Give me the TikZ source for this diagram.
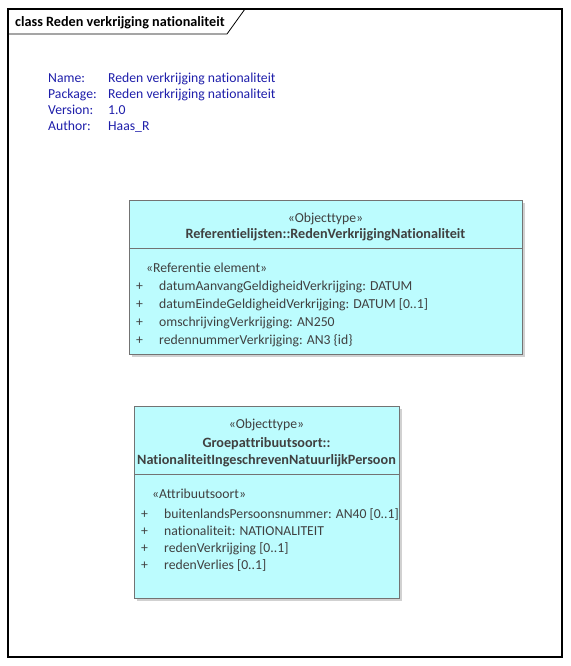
\documentclass[tikz,border=0pt]{standalone}
\usepackage{fontspec}
\setmainfont{Carlito}[Ligatures=NoCommon]
\usetikzlibrary{positioning}
\definecolor{classfill}{RGB}{188,252,254}
\definecolor{infoblue}{RGB}{30,30,170}
\definecolor{classtext}{RGB}{64,64,64}
\newcommand{\umlfont}{\fontsize{13.7}{17}\selectfont}
\newcommand{\umlbold}{\fontsize{14.2}{17}\selectfont\bfseries}

\begin{document}
\begin{tikzpicture}[x=1pt,y=-1pt,font=\umlfont,
    classbox/.style={draw=black!55,fill=classfill,inner sep=0pt},
    shadowbox/.style={fill=black!18,draw=none},
    info/.style={text=infoblue,anchor=mid west,inner sep=0pt},
    ctext/.style={text=classtext,inner sep=0pt},
    attr/.style={ctext,anchor=mid west}]
  \useasboundingbox (0,0) rectangle (570,666);

  % diagram frame with title tab
  \draw[line width=1.2pt] (8,9) rectangle (562,657);
  \draw[line width=0.8pt] (8,34) -- (227,34) -- (245,9);
  \node[anchor=mid west,inner sep=0pt,font=\umlbold] (title) at (15,24) {class Reden verkrijging nationaliteit};

  % diagram properties
  \foreach \key/\val [count=\i] in {Name:/Reden verkrijging nationaliteit,
      Package:/Reden verkrijging nationaliteit, Version:/1.0, Author:/Haas\_R} {
    \node[info] (key\i) at (48,64.5+16*\i) {\key};
    \node[info] (val\i) at (108,64.5+16*\i) {\val};
  }

  % class Referentielijsten::RedenVerkrijgingNationaliteit
  \fill[black!18] (132,203) rectangle (525,357);
  \node[classbox,minimum width=393pt,minimum height=154pt] (refbox) at (325.5,277) {};
  \draw[black!55] (refbox.west |- 0,248.5) -- (refbox.east |- 0,248.5);
  \node[ctext] (refstereo) at (325.5,218.5) {«Objecttype»};
  \node[ctext,font=\umlbold] (refname) at (325.5,235) {Referentielijsten::RedenVerkrijgingNationaliteit};
  \node[attr] (refsect) at (146,270.5) {«Referentie element»};
  \foreach \attr [count=\i] in {datumAanvangGeldigheidVerkrijging: DATUM,
      datumEindeGeldigheidVerkrijging: DATUM [0..1],
      omschrijvingVerkrijging: AN250,
      redennummerVerkrijging: AN3 \{id\}} {
    \node[attr] (refplus\i) at (136,270.5+18*\i) {+};
    \node[attr] (refattr\i) at (159,270.5+18*\i) {\attr};
  }

  % class Groepattribuutsoort::NationaliteitIngeschrevenNatuurlijkPersoon
  \fill[black!18] (137,409) rectangle (402,601);
  \node[classbox,minimum width=265pt,minimum height=192pt] (natbox) at (266.5,502) {};
  \draw[black!55] (natbox.west |- 0,474) -- (natbox.east |- 0,474);
  \node[ctext] (natstereo) at (266.5,424.5) {«Objecttype»};
  \node[ctext,align=center,font=\umlbold] (natname) at (266.5,452)
    {Groepattribuutsoort::\\NationaliteitIngeschrevenNatuurlijkPersoon};
  \node[attr] (natsect) at (152,496.5) {«Attribuutsoort»};
  \foreach \attr [count=\i] in {buitenlandsPersoonsnummer: AN40 [0..1],
      nationaliteit: NATIONALITEIT,
      redenVerkrijging [0..1],
      redenVerlies [0..1]} {
    \node[attr] (natplus\i) at (141,498.4+17.3*\i) {+};
    \node[attr] (natattr\i) at (164,498.4+17.3*\i) {\attr};
  }
\end{tikzpicture}
\end{document}
